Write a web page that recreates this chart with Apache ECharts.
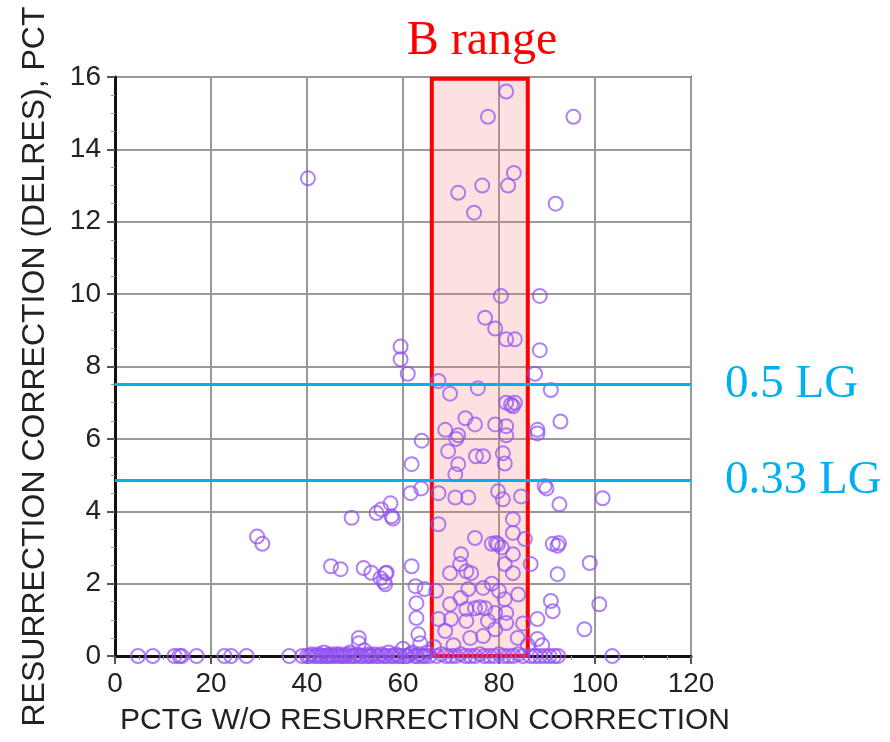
<!DOCTYPE html>
<html><head><meta charset="utf-8">
<script src="https://cdn.jsdelivr.net/npm/echarts@6/dist/echarts.min.js"></script>
<style>html,body{margin:0;padding:0;background:#fff}#c{width:890px;height:742px}</style>
</head><body><div id="c"></div>
<script>
// ---- data ----
const xAxisRange = [0, 120, 20];
const yAxisRange = [0, 16, 2];
const bRange = [66, 86];
const bRangeTop = 15.95;
const lgLevels = [7.5, 4.85];
const lgLabels = ['0.5 LG', '0.33 LG'];
const xAxisTitle = 'PCTG W/O RESURRECTION CORRECTION';
const yAxisTitle = 'RESURRECTION CORRECTION (DELRES), PCT';
const boxTitle = 'B range';

const upperPts = [
  [81.5,15.6],[77.7,14.9],[95.5,14.9],[40.2,13.2],[83.1,13.35],[71.5,12.8],[76.5,13.0],[81.9,13.0],[74.8,12.25],[91.8,12.5],
  [80.4,9.95],[88.5,9.95],[77.1,9.35],[79.2,9.05],[81.5,8.75],[83.3,8.75],[88.5,8.45],[59.5,8.55],[59.5,8.2],[61,7.8],
  [87.5,7.8],[67.4,7.6],[69.8,7.25],[75.6,7.4],[90.8,7.35],[81.5,7.0],[82.5,6.95],[82.9,6.9],[83.3,7.0]
];
const midPts = [
  [73,6.57],[75,6.4],[79.2,6.4],[81.5,6.35],[68.8,6.25],[88,6.25],[92.8,6.48],[71.5,6.1],[63.9,5.95],[71.1,6.0],[81.5,6.1],[88,6.15],
  [69.4,5.66],[71.5,5.3],[70.9,5.02],[75.2,5.52],[76.7,5.52],[80.8,5.6],[81.2,5.32],[61.8,5.3],
  [61.6,4.5],[63.8,4.63],[57.4,4.22],[57.6,3.86],[55.5,4.05],[57.9,3.8],[49.3,3.82],[54.5,3.95],
  [67.4,4.5],[70.9,4.38],[73.6,4.38],[79.8,4.55],[80.8,4.33],[84.6,4.41],[89.5,4.7],[89.9,4.63],[92.6,4.19],[101.6,4.36],
  [82.9,3.78],[67.4,3.64],[75,3.26],[79.4,3.12],[78.5,3.1],[85.4,3.23],[91.2,3.1],[92.2,3.05],[92.5,3.12],[29.6,3.3],[30.7,3.1],
  [82.9,3.4],[80.6,3.0]
];
const lowPts = [
  [56.4,2.29],[61.8,2.48],[62.6,1.93],[62.8,1.46],[62.8,1.05],[63.2,0.6],[63.6,0.35],[66.9,1.8],[64.5,1.85],[69.8,2.29],
  [72.1,2.81],[73.2,2.34],[71.9,2.54],[74.2,2.29],[73.6,1.85],[76.7,1.88],[79.8,3.09],[82.9,2.81],[81.2,2.54],[82.9,2.29],
  [86.6,2.54],[92.2,2.26],[98.9,2.57],[90.8,1.52],[100.9,1.43],[97.8,0.74],[69.8,1.43],[73.2,1.3],[75,1.32],[77.1,1.32],
  [76,1.35],[81.2,1.57],[81.5,1.19],[79.2,1.19],[67.4,1.02],[70,1.02],[73.2,0.97],[77.7,0.97],[81.5,0.91],[68.8,0.69],
  [74,0.5],[76.7,0.55],[79.2,0.74],[83.9,0.5],[88,1.02],[88,0.47],[91.2,1.24],[89,0.3],
  [45,2.48],[47,2.4],[51.8,2.43],[53.4,2.3],[55.3,2.15],[56.3,1.98],[56.6,2.3],[56,2.05],[50.8,0.5],[50.8,0.35],
  [78.5,2.0],[84,1.7],[80,1.8],[72,1.6],[85,0.9],[86,0.3],[70.5,0.3],[66.5,0.25]
];
const zeroPts = [
  [4.8,0],[7.9,0],[12.4,0],[13.4,0],[13.9,0],[17,0],[22.8,0],[24.2,0],[27.4,0],[36.3,0],[39,0],
  [40,0],[40.5,0],[41,0.05],[41.5,0],[42,0],[42.4,0.05],[42.8,0],[43.2,0],[43.5,0.1],[43.9,0],[44.3,0],[44.7,0.05],
  [45,0],[45.5,0],[46,0.05],[46.4,0],[46.8,0.05],[47,0],[47.5,0],[48,0],[48.4,0.05],[48.8,0],[49,0.1],[49.5,0],
  [50,0],[50.5,0.05],[51,0],[51.5,0],[52,0.15],[52.4,0],[52.8,0.05],[53,0],[53.5,0],[54,0.05],[54.5,0],[55,0],
  [55.5,0.05],[56,0],[56.5,0],[57,0.1],[57.5,0],[58,0],[58.5,0.05],[59,0],[59.5,0],[60,0.2],[60.5,0],[61,0],
  [61.5,0.05],[62,0.1],[62.5,0],[63,0],[63.5,0.05],[64,0],[64.5,0],[65,0.1],[65.5,0],
  [67,0],[68,0.05],[69,0],[70,0],[71,0],[72,0.05],[73,0],[74,0],[75,0],[76,0.05],[77,0],[78,0],[79,0],[80,0.05],
  [81,0],[82,0],[83,0],[84,0.05],[85,0],
  [86.5,0],[87.5,0],[88.5,0],[89.5,0],[90.5,0],[91.5,0],[92.3,0],[103.6,0]
];

// ---- chart ----
const allPts = upperPts.concat(midPts, lowPts, zeroPts);
const purple = 'rgba(145,80,240,0.9)';
const font = 'Liberation Sans, Arial, sans-serif';
const serif = 'Liberation Serif, Times New Roman, serif';

const chart = echarts.init(document.getElementById('c'), null, {renderer: 'canvas'});
chart.setOption({
  animation: false,
  backgroundColor: '#fff',
  grid: {left: 115, right: 199, top: 77, bottom: 86, show: true, borderColor: '#333', borderWidth: 2, backgroundColor: '#fff'},
  title: {text: boxTitle, left: 477, top: 12, textAlign: 'center',
    textStyle: {color: '#ff0000', fontFamily: serif, fontSize: 48, fontWeight: 'normal'}},
  xAxis: {
    type: 'value', min: xAxisRange[0], max: xAxisRange[1], interval: xAxisRange[2],
    name: xAxisTitle, nameLocation: 'middle', nameGap: 50,
    nameTextStyle: {fontFamily: font, fontSize: 30, color: '#222', padding: [0, 0, 0, 44]},
    axisLine: {show: true, onZero: false, lineStyle: {color: '#111', width: 3}},
    axisTick: {show: true, length: 8, lineStyle: {color: '#555', width: 2}},
    minorTick: {show: true, splitNumber: 4, length: 4, lineStyle: {color: '#999', width: 1}},
    axisLabel: {fontFamily: font, fontSize: 28, color: '#222', margin: 14},
    splitLine: {show: true, lineStyle: {color: '#999', width: 2}}
  },
  yAxis: {
    type: 'value', min: yAxisRange[0], max: yAxisRange[1], interval: yAxisRange[2],
    name: yAxisTitle, nameLocation: 'middle', nameGap: 64,
    nameTextStyle: {fontFamily: font, fontSize: 32, color: '#222'},
    axisLine: {show: true, onZero: false, lineStyle: {color: '#111', width: 3}},
    axisTick: {show: true, length: 8, lineStyle: {color: '#555', width: 2}},
    minorTick: {show: true, splitNumber: 4, length: 4, lineStyle: {color: '#999', width: 1}},
    axisLabel: {fontFamily: font, fontSize: 28, color: '#222', margin: 14},
    splitLine: {show: true, lineStyle: {color: '#999', width: 2}}
  },
  series: [
    {
      type: 'scatter', data: [], z: 1, silent: true,
      markArea: {silent: true,
        itemStyle: {color: 'rgba(245,130,130,0.24)', borderWidth: 0},
        data: [[{coord: [bRange[0], 0]}, {coord: [bRange[1], bRangeTop]}]]}
    },
    {
      type: 'scatter', data: allPts, z: 3, symbol: 'circle', symbolSize: 14,
      itemStyle: {color: 'rgba(0,0,0,0)', borderColor: purple, borderWidth: 2}
    },
    {
      type: 'scatter', data: [], z: 4, silent: true,
      markArea: {silent: true,
        itemStyle: {color: 'rgba(0,0,0,0)', borderColor: '#ff0000', borderWidth: 4},
        data: [[{coord: [bRange[0], 0]}, {coord: [bRange[1], bRangeTop]}]]},
      markLine: {silent: true, symbol: ['none', 'none'],
        lineStyle: {color: '#00b0f0', width: 3, type: 'solid'},
        label: {show: true, position: 'end', distance: 34, color: '#00b0f0', fontFamily: serif, fontSize: 47,
          formatter: p => p.name},
        data: lgLevels.map((v, i) => ({yAxis: v, name: lgLabels[i]}))}
    }
  ]
});
</script></body></html>
